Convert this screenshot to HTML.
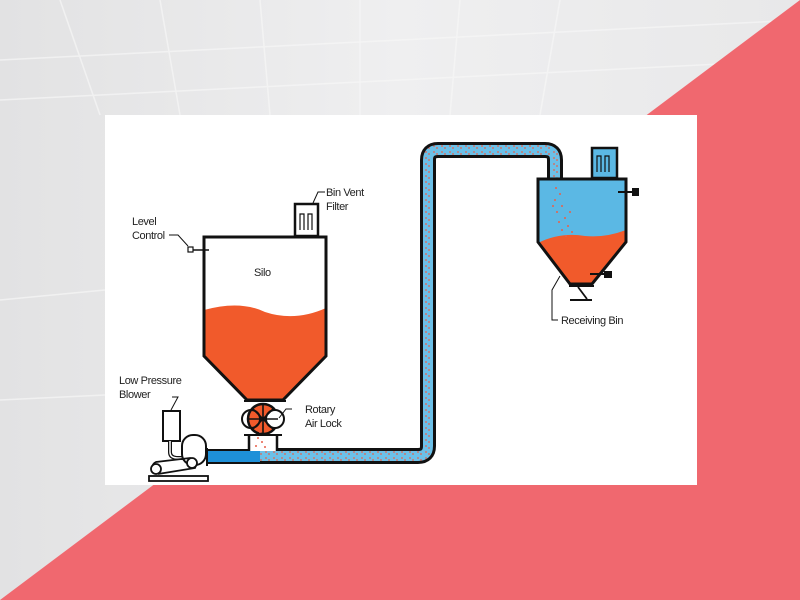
<!DOCTYPE html>
<html><head><style>
html,body{margin:0;padding:0;width:800px;height:600px;overflow:hidden;background:#ebebec;}
svg{display:block}
text{font-family:"Liberation Sans",sans-serif;font-size:11px;fill:#222;letter-spacing:-0.4px}
</style></head><body>
<svg width="800" height="600" viewBox="0 0 800 600" xmlns="http://www.w3.org/2000/svg">
<defs>
<pattern id="dots" width="8" height="6" patternUnits="userSpaceOnUse">
<rect width="8" height="6" fill="#6cc0e8"/>
<circle cx="2" cy="2" r="0.9" fill="#e8604a"/><circle cx="5" cy="4" r="0.9" fill="#e8604a"/>
</pattern>
<linearGradient id="bg" x1="0" y1="0" x2="1" y2="0">
<stop offset="0" stop-color="#e2e2e3"/><stop offset="0.5" stop-color="#efeff0"/><stop offset="1" stop-color="#e8e8e9"/>
</linearGradient>
</defs>
<rect width="800" height="600" fill="url(#bg)"/>
<g stroke="#f7f7f7" stroke-width="1.5" opacity="0.7">
<line x1="0" y1="60" x2="800" y2="20"/><line x1="0" y1="100" x2="800" y2="60"/>
<line x1="60" y1="0" x2="100" y2="115"/><line x1="160" y1="0" x2="180" y2="115"/><line x1="260" y1="0" x2="270" y2="115"/>
<line x1="360" y1="0" x2="360" y2="115"/><line x1="460" y1="0" x2="450" y2="115"/><line x1="560" y1="0" x2="540" y2="115"/>
<line x1="0" y1="300" x2="105" y2="290"/><line x1="0" y1="400" x2="105" y2="395"/>
</g>
<polygon points="800,0 800,600 0,600" fill="#f0686f"/>
<rect x="105" y="115" width="592" height="370" fill="#fff"/>

<!-- conveying pipe -->
<path d="M258,456 H418 Q428,456 428,446 V160 Q428,150 438,150 H545 Q555,150 555,160 V180" fill="none" stroke="#111" stroke-width="16"/>
<path d="M258,456 H418 Q428,456 428,446 V160 Q428,150 438,150 H545 Q555,150 555,160 V180" fill="none" stroke="url(#dots)" stroke-width="10"/>
<rect x="208" y="451" width="52" height="11" fill="#1e90d8"/>
<line x1="208" y1="450" x2="258" y2="450" stroke="#111" stroke-width="2"/>
<line x1="208" y1="463" x2="258" y2="463" stroke="#111" stroke-width="2"/>

<!-- silo -->
<path d="M204,310 Q240,300 265,312 Q295,322 326,308 V356 L283,400 H247 L204,356 Z" fill="#f15a2b"/>
<path d="M204,237 H326 V356 L283,400 H247 L204,356 Z" fill="none" stroke="#111" stroke-width="3"/>
<rect x="295" y="204" width="23" height="32" fill="#fff" stroke="#111" stroke-width="2.5"/>
<path d="M300,230 V214 H304 V230 M308,230 V214 H312 V230" fill="none" stroke="#111" stroke-width="1.2"/>
<text x="254" y="276">Silo</text>
<rect x="188" y="247" width="5" height="5" fill="#fff" stroke="#111" stroke-width="1.2"/>
<line x1="193" y1="250" x2="209" y2="250" stroke="#111" stroke-width="1.5"/>
<path d="M169,235 H178 L188,246" fill="none" stroke="#111" stroke-width="1"/>
<text x="132" y="225">Level</text><text x="132" y="239">Control</text>
<path d="M313,203 L318,192 H325" fill="none" stroke="#111" stroke-width="1"/>
<text x="326" y="196">Bin Vent</text><text x="326" y="210">Filter</text>

<!-- airlock -->
<line x1="244" y1="401" x2="286" y2="401" stroke="#111" stroke-width="2"/>
<circle cx="263" cy="419" r="15" fill="#f15a2b" stroke="#111" stroke-width="2.5"/>
<circle cx="275" cy="419" r="9" fill="#fff" stroke="#111" stroke-width="2"/>
<circle cx="251" cy="419" r="9" fill="none" stroke="#111" stroke-width="2"/>
<g stroke="#111" stroke-width="1.6">
<line x1="263" y1="404" x2="263" y2="434"/><line x1="248" y1="419" x2="278" y2="419"/>
<line x1="252" y1="408" x2="274" y2="430"/><line x1="274" y1="408" x2="252" y2="430"/></g>
<rect x="249" y="435" width="28" height="16" fill="#fff"/>
<path d="M249,435 V451 M277,435 V451" stroke="#111" stroke-width="2.5"/>
<line x1="244" y1="435" x2="282" y2="435" stroke="#111" stroke-width="2"/>
<g fill="#e8604a"><circle cx="258" cy="438" r="1"/><circle cx="262" cy="442" r="1"/><circle cx="256" cy="446" r="1"/><circle cx="265" cy="447" r="1"/><circle cx="260" cy="432" r="1"/></g>
<path d="M279,418 L286,409 H292" fill="none" stroke="#111" stroke-width="1"/>
<text x="305" y="413">Rotary</text><text x="305" y="427">Air Lock</text>

<!-- blower -->
<text x="119" y="384">Low Pressure</text><text x="119" y="398">Blower</text>
<path d="M171,410 L178,397 H172" fill="none" stroke="#111" stroke-width="1"/>
<rect x="163" y="411" width="17" height="30" fill="#fff" stroke="#111" stroke-width="2"/>
<path d="M170,441 V452 Q170,458 178,458 H186" fill="none" stroke="#111" stroke-width="4"/>
<path d="M170,441 V452 Q170,458 178,458 H186" fill="none" stroke="#fff" stroke-width="1.5"/>
<rect x="182" y="435" width="24" height="30" rx="11" fill="#fff" stroke="#111" stroke-width="2"/>
<line x1="207" y1="448" x2="207" y2="466" stroke="#111" stroke-width="2"/>
<path d="M155,470 Q150,465 156,462 L190,458 Q198,460 195,468 L158,474" fill="none" stroke="#111" stroke-width="1.8"/>
<circle cx="156" cy="469" r="5" fill="#fff" stroke="#111" stroke-width="1.8"/>
<circle cx="192" cy="463" r="5" fill="#fff" stroke="#111" stroke-width="1.8"/>
<rect x="149" y="476" width="59" height="5" fill="#fff" stroke="#111" stroke-width="1.8"/>

<!-- receiving bin -->
<path d="M538,179 H626 V242 L592,284 H570 L538,242 Z" fill="#5bb8e4"/>
<path d="M538,243 Q560,232 585,236 Q605,238 626,230 V242 L592,284 H570 L538,242 Z" fill="#f15a2b"/>
<g fill="#e8604a">
<circle cx="556" cy="188" r="1"/><circle cx="560" cy="194" r="1"/><circle cx="555" cy="200" r="1"/><circle cx="562" cy="206" r="1"/><circle cx="557" cy="212" r="1"/><circle cx="565" cy="218" r="1"/><circle cx="559" cy="222" r="1"/><circle cx="568" cy="226" r="1"/><circle cx="562" cy="230" r="1"/><circle cx="572" cy="232" r="1"/><circle cx="566" cy="236" r="1"/><circle cx="553" cy="206" r="1"/><circle cx="570" cy="212" r="1"/></g>
<path d="M538,179 H626 V242 L592,284 H570 L538,242 Z" fill="none" stroke="#111" stroke-width="3"/>
<rect x="592" y="148" width="25" height="30" fill="#5bb8e4" stroke="#111" stroke-width="2.5"/>
<path d="M597,172 V156 H601 V172 M605,172 V156 H609 V172" fill="none" stroke="#111" stroke-width="1.2"/>
<line x1="618" y1="192" x2="632" y2="192" stroke="#111" stroke-width="2"/>
<rect x="632" y="188" width="7" height="8" fill="#111"/>
<line x1="590" y1="274" x2="604" y2="274" stroke="#111" stroke-width="2"/>
<rect x="604" y="271" width="8" height="7" fill="#111"/>
<line x1="569" y1="286" x2="594" y2="286" stroke="#111" stroke-width="2"/>
<line x1="578" y1="287" x2="587" y2="299" stroke="#111" stroke-width="1.8"/>
<line x1="570" y1="300" x2="592" y2="300" stroke="#111" stroke-width="2"/>
<path d="M560,276 L552,290 V320 H558" fill="none" stroke="#111" stroke-width="1"/>
<text x="561" y="324">Receiving Bin</text>
</svg>
</body></html>
